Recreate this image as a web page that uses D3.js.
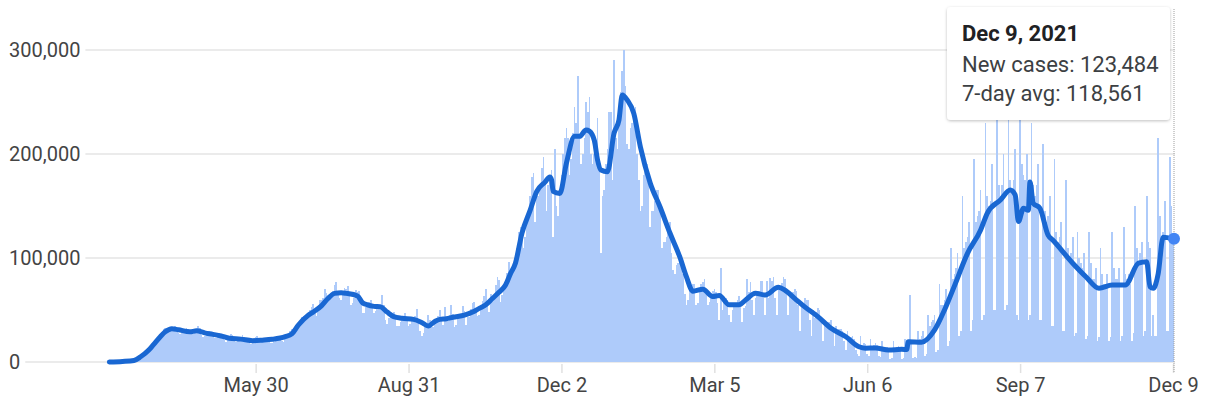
<!DOCTYPE html>
<html>
<head>
<meta charset="utf-8">
<script src="https://cdnjs.cloudflare.com/ajax/libs/d3/7.8.5/d3.min.js"></script>
<style>
  html, body { margin: 0; padding: 0; background: #fff; }
  svg { display: block; font-family: Roboto, "Noto Sans", Arial, sans-serif; }
</style>
</head>
<body>
<svg id="chart" width="1206" height="409"></svg>
<script>

/* Daily new cases, in thousands, one row per week (Mon..Sun), starting Mon Mar 2, 2020 */
const firstDay = '2020-03-02';
const dailyCasesK = [
  [0.02,0.03,0.04,0.06,0.08,0.1,0.1],
  [0.15,0.2,0.3,0.4,0.5,0.6,0.7],
  [0.9,1.2,1.8,2.5,3.5,4.8,6],
  [8,9,10,11,14,17,19],
  [19,21,25,27,29,32,33],
  [29,30,31,32,34,35,31],
  [28,27,28,30,31,33,32],
  [27,27,27,29,31,35,33],
  [26,24,25,27,30,30,29],
  [25,23,23,25,28,27,26],
  [21,19,21,22,27,26,24],
  [19,21,20,22,26,24,22],
  [19,18,17,19,22,24,25],
  [21,19,20,20,21,23,22],
  [18,18,19,21,22,24,25],
  [20,19,23,26,27,30,32],
  [27,28,33,37,39,43,44],
  [40,40,45,50,53,56,48],
  [44,50,60,60,62,70,66],
  [60,61,66,68,74,77,66],
  [62,60,64,71,70,73,66],
  [55,57,62,69,67,68,60],
  [47,47,53,56,58,60,56],
  [47,49,52,56,56,64,55],
  [40,37,42,45,45,48,43],
  [35,35,38,42,44,47,43],
  [35,37,39,42,44,51,41],
  [30,25,28,35,37,45,40],
  [35,34,38,39,44,50,42],
  [36,53,39,39,45,55,46],
  [34,36,43,43,45,54,49],
  [36,43,43,51,57,58,50],
  [44,45,52,59,63,70,57],
  [48,65,62,62,74,82,79],
  [58,64,72,77,86,96,84],
  [85,95,100,110,125,130,128],
  [110,120,140,145,160,178,182],
  [135,160,160,170,187,197,175],
  [145,170,175,185,120,205,150],
  [140,160,180,200,215,225,215],
  [180,195,220,245,230,275,215],
  [190,200,215,250,240,255,200],
  [190,200,210,235,190,105,160],
  [165,190,205,240,240,175,290],
  [215,205,240,260,280,300,265],
  [210,205,225,230,235,245,200],
  [175,145,150,180,190,190,170],
  [130,145,145,155,165,165,145],
  [110,115,115,120,125,135,105],
  [88,85,93,95,105,100,85],
  [65,55,60,70,70,75,75],
  [55,57,70,75,77,80,65],
  [55,58,62,68,70,67,57],
  [40,90,50,58,62,60,45],
  [38,50,54,57,60,63,53],
  [38,52,54,80,67,77,60],
  [45,62,63,68,78,78,62],
  [45,78,62,81,78,82,62],
  [45,70,72,76,82,80,65],
  [45,65,65,67,70,68,55],
  [30,55,57,62,60,60,40],
  [25,50,42,48,52,50,40],
  [20,40,35,38,38,40,30],
  [15,35,28,32,32,30,20],
  [12,30,22,24,25,22,12],
  [8,6,25,16,18,17,8],
  [6,22,14,16,18,16,6],
  [5,20,12,14,14,12,3],
  [4,20,12,14,15,14,3],
  [4,22,14,16,64,18,4],
  [5,4,30,22,25,30,6],
  [8,45,35,38,40,45,10],
  [12,75,55,55,60,70,15],
  [20,110,80,85,90,105,25],
  [30,160,110,115,120,135,30],
  [40,195,135,140,145,165,40],
  [45,230,160,150,155,190,50],
  [50,255,170,160,170,200,50],
  [55,275,175,165,175,205,45],
  [40,300,190,180,175,200,40],
  [45,230,170,160,170,190,40],
  [40,210,145,135,140,160,35],
  [35,195,125,115,120,135,30],
  [30,175,110,100,105,120,25],
  [28,125,100,95,90,105,22],
  [25,125,95,80,80,90,20],
  [24,110,85,75,75,85,20],
  [24,125,90,80,80,90,20],
  [25,130,85,80,85,75,20],
  [28,150,110,95,105,115,25],
  [30,160,115,110,25,45,25],
  [25,215,140,120,125,155,30],
  [30,197,150,123.484]
];

/* 7-day average (thousands) */
const avgDates = [
  '2020-03-02','2020-03-10','2020-03-17','2020-03-21','2020-03-26','2020-03-29','2020-04-02','2020-04-05',
  '2020-04-09','2020-04-13','2020-04-20','2020-04-24','2020-04-29','2020-05-04','2020-05-09','2020-05-14',
  '2020-05-21','2020-05-28','2020-06-03','2020-06-09','2020-06-17','2020-06-21','2020-06-25','2020-07-01',
  '2020-07-04','2020-07-09','2020-07-13','2020-07-17','2020-07-21','2020-07-24','2020-07-31','2020-08-03',
  '2020-08-06','2020-08-10','2020-08-14','2020-08-18','2020-08-22','2020-08-27','2020-09-03','2020-09-08',
  '2020-09-12','2020-09-16','2020-09-19','2020-09-23','2020-09-27','2020-10-04','2020-10-09','2020-10-13',
  '2020-10-17','2020-10-21','2020-10-25','2020-10-29','2020-11-01','2020-11-04','2020-11-08','2020-11-13',
  '2020-11-17','2020-11-22','2020-11-25','2020-11-26','2020-11-27','2020-12-01','2020-12-05','2020-12-10',
  '2020-12-13','2020-12-17','2020-12-19','2020-12-22','2020-12-24','2020-12-26','2020-12-30','2021-01-03',
  '2021-01-06','2021-01-08','2021-01-11','2021-01-15','2021-01-19','2021-01-25','2021-01-31','2021-02-06',
  '2021-02-12','2021-02-16','2021-02-20','2021-02-26','2021-03-04','2021-03-08','2021-03-14','2021-03-20',
  '2021-03-24','2021-03-30','2021-04-05','2021-04-13','2021-04-17','2021-04-23','2021-04-29','2021-05-07',
  '2021-05-15','2021-05-24','2021-06-01','2021-06-05','2021-06-11','2021-06-19','2021-06-27','2021-06-30',
  '2021-07-01','2021-07-09','2021-07-17','2021-07-23','2021-07-29','2021-08-06','2021-08-14','2021-08-18',
  '2021-08-26','2021-09-01','2021-09-04','2021-09-06','2021-09-09','2021-09-12','2021-09-13','2021-09-15',
  '2021-09-19','2021-09-24','2021-09-27','2021-10-09','2021-10-17','2021-10-25','2021-11-02','2021-11-10',
  '2021-11-18','2021-11-23','2021-11-25','2021-11-27','2021-11-30','2021-12-03','2021-12-09'
];
const avgValuesK = [
  0,0.5,1.5,5,11.5,17,24.3,29,
  32,31,29,30,28,26.6,25,22.8,
  22,20.5,21,21.8,24.3,27,35.6,45,
  48,54,61,66,66.5,66,63.5,57,
  55,53.5,53,48,43.6,42,41,38,
  34.6,39,41,41.5,43,45,48,51.6,
  55,61,67,74,85,95,124,146,
  164,173,178,175,164,162,191,217,
  217,223,222,213,194,184.6,183,220,
  232.7,256.7,252,239,207,172,149,124,
  101,82,68,70,63,64,55,55,
  59.6,66,64.4,71.8,69,61,53,43.6,
  32.4,24.3,14.7,13.2,13.5,11.5,12.2,12,
  19.5,19,30.8,50,73,104.5,127,143,
  155.8,165.4,160.6,135,147.8,146,173,152.6,
  148,122,117,95,82,70.9,74,74,
  95,96.4,72.4,70.9,85,120,118.561
];

/* Axis ticks */
const yTickValues = [0, 100000, 200000, 300000];
const xTickDates = ['2020-05-30','2020-08-31','2020-12-02','2021-03-05','2021-06-06','2021-09-07','2021-12-09'];
const xTickLabels = ['May 30','Aug 31','Dec 2','Mar 5','Jun 6','Sep 7','Dec 9'];

/* Hovered day */
const hoverDate = '2021-12-09';
const hoverAvg = 118561;
const tooltipTitle = 'Dec 9, 2021';
const tooltipLines = ['New cases: 123,484', '7-day avg: 118,561'];

const parse = d3.utcParse('%Y-%m-%d');
const start = parse(firstDay);
const daily = dailyCasesK.flat().map((v, i) => ({ date: d3.utcDay.offset(start, i), value: v * 1000 }));
const avg = avgDates.map((d, i) => ({ date: parse(d), value: avgValuesK[i] * 1000 }));

const svg = d3.select('#chart');
const plotRight = 1175;

/* X Scale */
const x = d3.scaleUtc()
  .domain([parse('2020-03-01'), parse('2021-12-09')])
  .range([107.7, 1173]);

/* Y Scale */
const y = d3.scaleLinear()
  .domain([0, 300000])
  .range([362, 50]);

/* Y Axis labels + grid */
const yAxis = d3.axisRight(y)
  .tickValues(yTickValues)
  .tickSize(0)
  .tickPadding(0)
  .tickFormat(d3.format(','));

const yG = svg.append('g')
  .attr('transform', 'translate(9,0)')
  .call(yAxis);
yG.select('.domain').remove();
yG.selectAll('text')
  .attr('fill', '#444')
  .style('font-size', '20px')
  .style('font-family', 'Roboto, sans-serif');

const grid = svg.insert('g', ':first-child');
yG.selectAll('.tick').each(function(d) {
  const w = this.querySelector('text').getComputedTextLength();
  grid.append('line')
    .attr('x1', 9 + w + 5).attr('x2', plotRight)
    .attr('y1', y(d)).attr('y2', y(d))
    .attr('stroke', '#ebebeb')
    .attr('stroke-width', 2);
});

/* X Axis */
const xAxis = d3.axisBottom(x)
  .tickValues(xTickDates.map(parse))
  .tickFormat((d, i) => xTickLabels[i])
  .tickSize(9)
  .tickPadding(5);

const xG = svg.append('g')
  .attr('transform', 'translate(0,364)')
  .call(xAxis);
xG.select('.domain').remove();
xG.selectAll('line').attr('stroke', '#e0e0e0').attr('stroke-width', 1.5);
xG.selectAll('text')
  .attr('fill', '#444')
  .style('font-size', '20px')
  .style('font-family', 'Roboto, sans-serif');

/* Daily bars: each bar spans from half a day before to half a day after its date */
const half = d => d3.utcHour.offset(d, -12);
svg.append('g')
  .attr('shape-rendering', 'crispEdges')
  .selectAll('rect')
  .data(daily)
  .enter()
  .append('rect')
  .attr('x', d => Math.round(x(half(d.date))))
  .attr('width', d => Math.round(x(half(d3.utcDay.offset(d.date, 1)))) - Math.round(x(half(d.date))))
  .attr('y', d => y(d.value))
  .attr('height', d => y(0) - y(d.value))
  .attr('fill', '#aecbfa');

/* 7-day average line */
const line = d3.line()
  .x(d => x(d.date))
  .y(d => y(d.value))
  .curve(d3.curveMonotoneX);

svg.append('path')
  .datum(avg)
  .attr('d', line)
  .attr('fill', 'none')
  .attr('stroke', '#1967d2')
  .attr('stroke-width', 5)
  .attr('stroke-linejoin', 'round')
  .attr('stroke-linecap', 'round');

/* Hover marker */
const hx = x(parse(hoverDate));
svg.append('line')
  .attr('x1', hx + 1).attr('x2', hx + 1)
  .attr('y1', 9).attr('y2', 372)
  .attr('stroke', '#9e9e9e')
  .attr('stroke-width', 1)
  .attr('stroke-dasharray', '1,1');

svg.append('circle')
  .attr('cx', hx + 1)
  .attr('cy', y(hoverAvg))
  .attr('r', 6)
  .attr('fill', '#4285f4');

/* Tooltip */
const defs = svg.append('defs');
const f = defs.append('filter').attr('id', 'shadow')
  .attr('x', '-10%').attr('y', '-10%').attr('width', '120%').attr('height', '130%');
f.append('feDropShadow')
  .attr('dx', 0).attr('dy', 1)
  .attr('stdDeviation', 1.5)
  .attr('flood-color', '#000')
  .attr('flood-opacity', 0.25);

const tip = svg.append('g').attr('transform', `translate(${hx - 226},7)`);
tip.append('rect')
  .attr('width', 223).attr('height', 113)
  .attr('rx', 4)
  .attr('fill', '#fff')
  .attr('filter', 'url(#shadow)');
tip.append('text')
  .attr('x', 15).attr('y', 34)
  .attr('fill', '#202124')
  .style('font-size', '22px')
  .style('font-weight', 'bold')
  .text(tooltipTitle);
tip.selectAll('text.row')
  .data(tooltipLines)
  .enter()
  .append('text')
  .attr('class', 'row')
  .attr('x', 15)
  .attr('y', (d, i) => 65 + i * 29)
  .attr('fill', '#3c4043')
  .style('font-size', '22px')
  .text(d => d);

</script>
</body>
</html>
